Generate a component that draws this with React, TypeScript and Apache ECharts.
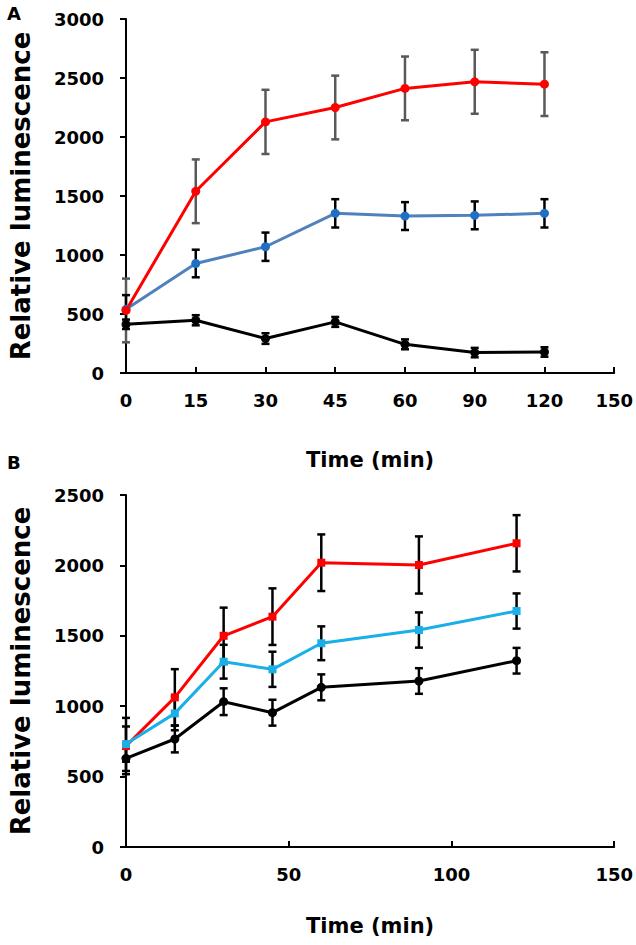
import React, { useEffect, useRef } from "react";
import * as echarts from "echarts";

// Panel A (category time axis)
const timeLabelsA = ["0", "15", "30", "45", "60", "90", "120", "150"];
const redA = [530, 1540, 2128, 2250, 2412, 2468, 2448];
const redErrA = [270, 270, 272, 270, 270, 271, 270];
const blueA = [540, 928, 1070, 1353, 1330, 1336, 1353];
const blueErrA = [120, 117, 120, 120, 118, 118, 120];
const blackA = [413, 447, 292, 433, 243, 173, 178];
const blackErrA = [40, 43, 45, 42, 42, 40, 40];

// Panel B (value time axis)
const timesB = [0, 15, 30, 45, 60, 90, 120];
const redB = [717, 1063, 1500, 1636, 2019, 2003, 2157];
const redErrB = [200, 200, 200, 201, 201, 203, 200];
const cyanB = [731, 949, 1316, 1262, 1447, 1541, 1676];
const cyanErrB = [125, 120, 120, 125, 120, 125, 125];
const blackB = [630, 767, 1032, 954, 1134, 1179, 1323];
const blackErrB = [90, 95, 95, 92, 92, 91, 91];

const yTicksA = { min: 0, max: 3000, interval: 500 };
const yTicksB = { min: 0, max: 2500, interval: 500 };
const xTicksB = { min: 0, max: 150, interval: 50 };

const FONT = "DejaVu Sans";

function errData(xs: number[], ys: number[], errs: number[]) {
  return ys.map((y, i) => [xs[i], y - errs[i], y + errs[i]]);
}

function errSeries(data: number[][], color: string, idx: number) {
  return {
    type: "custom",
    xAxisIndex: idx,
    yAxisIndex: idx,
    z: 1,
    silent: true,
    data,
    encode: { x: 0, y: [1, 2] },
    renderItem: (params: any, api: any) => {
      const x = api.value(0);
      const lo = api.coord([x, api.value(1)]);
      const hi = api.coord([x, api.value(2)]);
      const w = 4;
      const st = { stroke: color, lineWidth: 2.5 };
      return {
        type: "group",
        children: [
          { type: "line", shape: { x1: hi[0], y1: hi[1], x2: lo[0], y2: lo[1] }, style: st },
          { type: "line", shape: { x1: hi[0] - w, y1: hi[1], x2: hi[0] + w, y2: hi[1] }, style: st },
          { type: "line", shape: { x1: lo[0] - w, y1: lo[1], x2: lo[0] + w, y2: lo[1] }, style: st },
        ],
      };
    },
  };
}

function lineSeries(data: any[], color: string, markerColor: string, symbol: string, idx: number) {
  return {
    type: "line",
    xAxisIndex: idx,
    yAxisIndex: idx,
    z: 3,
    data,
    symbol,
    symbolSize: symbol === "rect" ? 8 : 9,
    showSymbol: true,
    lineStyle: { color, width: 3 },
    itemStyle: { color: markerColor },
  };
}

const plain = (v: number | string) => String(v);
const axisLineStyle = { show: true, lineStyle: { color: "#000", width: 2 } };
const labelStyle = { color: "#000", fontFamily: FONT, fontWeight: "bold" as const, fontSize: 18, formatter: plain };
const nameStyle = { color: "#000", fontFamily: FONT, fontWeight: "bold" as const, fontSize: 21 };

export default function App() {
  const ref = useRef<HTMLDivElement>(null);
  useEffect(() => {
    if (!ref.current) return;
    const chart = echarts.init(ref.current, null, { renderer: "svg" });
    const idxA = timeLabelsA.map((_, i) => i);
    const option: any = {
      animation: false,
      backgroundColor: "#fff",
      textStyle: { fontFamily: FONT },
      graphic: [
        { type: "text", left: 7, top: 4, style: { text: "A", fontFamily: FONT, fontWeight: "bold", fontSize: 18, fill: "#000" } },
        { type: "text", left: 7, top: 453, style: { text: "B", fontFamily: FONT, fontWeight: "bold", fontSize: 18, fill: "#000" } },
      ],
      grid: [
        { left: 120, top: 19, width: 495, height: 354 },
        { left: 120, top: 495, width: 495, height: 352 },
      ],
      xAxis: [
        {
          gridIndex: 0,
          type: "category",
          data: timeLabelsA,
          boundaryGap: false,
          axisLine: axisLineStyle,
          axisTick: { show: true, inside: true, length: 6, lineStyle: { color: "#000", width: 2 } },
          axisLabel: { ...labelStyle, margin: 18, interval: 0 },
          splitLine: { show: false },
          name: "Time (min)",
          nameLocation: "middle",
          nameGap: 76,
          nameTextStyle: nameStyle,
        },
        {
          gridIndex: 1,
          type: "value",
          ...xTicksB,
          axisLine: axisLineStyle,
          axisTick: { show: true, inside: true, length: 6, lineStyle: { color: "#000", width: 2 } },
          axisLabel: { ...labelStyle, margin: 18 },
          splitLine: { show: false },
          name: "Time (min)",
          nameLocation: "middle",
          nameGap: 68,
          nameTextStyle: nameStyle,
        },
      ],
      yAxis: [
        {
          gridIndex: 0,
          type: "value",
          ...yTicksA,
          axisLine: axisLineStyle,
          axisTick: { show: true, inside: false, length: 6, lineStyle: { color: "#000", width: 2 } },
          axisLabel: { ...labelStyle, margin: 22 },
          splitLine: { show: false },
          name: "Relative luminescence",
          nameLocation: "middle",
          nameGap: 92,
          nameTextStyle: { ...nameStyle, fontSize: 26 },
        },
        {
          gridIndex: 1,
          type: "value",
          ...yTicksB,
          axisLine: axisLineStyle,
          axisTick: { show: true, inside: false, length: 6, lineStyle: { color: "#000", width: 2 } },
          axisLabel: { ...labelStyle, margin: 22 },
          splitLine: { show: false },
          name: "Relative luminescence",
          nameLocation: "middle",
          nameGap: 92,
          nameTextStyle: { ...nameStyle, fontSize: 26 },
        },
      ],
      series: [
        errSeries(errData(idxA, redA, redErrA), "#595959", 0),
        errSeries(errData(idxA, blueA, blueErrA), "#000", 0),
        errSeries(errData(idxA, blackA, blackErrA), "#000", 0),
        lineSeries(blackA, "#000", "#000", "circle", 0),
        lineSeries(blueA, "#4F81BD", "#1F6FC4", "circle", 0),
        lineSeries(redA, "#FF0000", "#FF0000", "circle", 0),
        errSeries(errData(timesB, redB, redErrB), "#000", 1),
        errSeries(errData(timesB, cyanB, cyanErrB), "#000", 1),
        errSeries(errData(timesB, blackB, blackErrB), "#000", 1),
        lineSeries(timesB.map((t, i) => [t, blackB[i]]), "#000", "#000", "circle", 1),
        lineSeries(timesB.map((t, i) => [t, redB[i]]), "#FF0000", "#FF0000", "rect", 1),
        lineSeries(timesB.map((t, i) => [t, cyanB[i]]), "#1AAFE6", "#1AAFE6", "rect", 1),
      ],
    };
    chart.setOption(option);
    return () => chart.dispose();
  }, []);
  return (
    <div
      ref={ref}
      style={{ position: "absolute", left: 0, top: 0, width: 636, height: 945, background: "#fff" }}
    />
  );
}
